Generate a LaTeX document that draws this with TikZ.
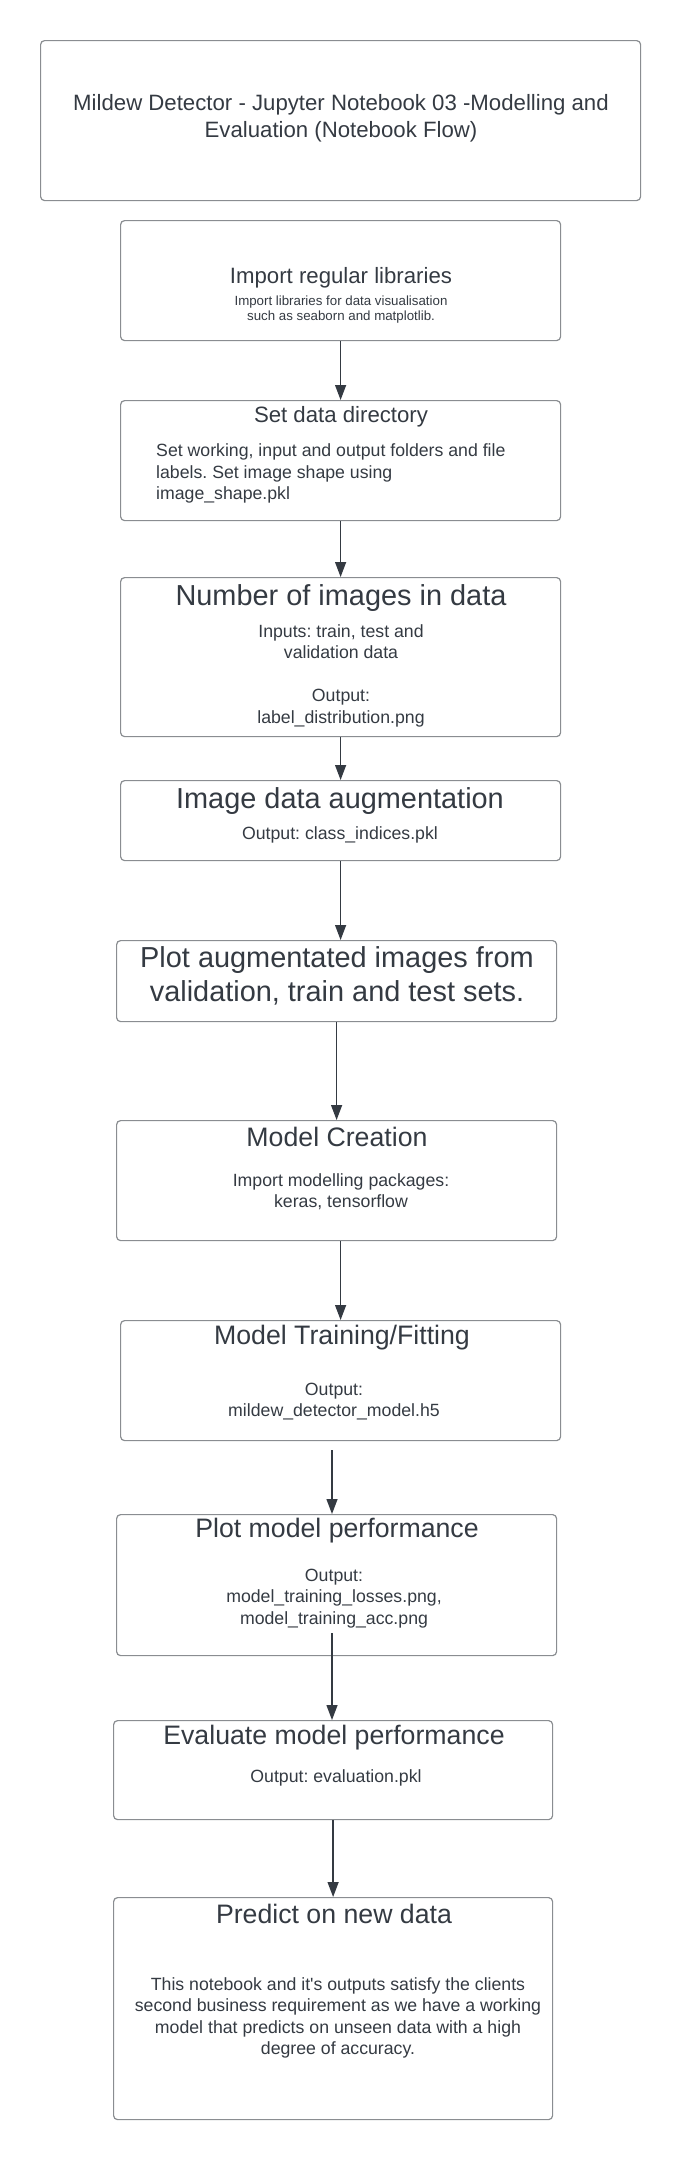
\documentclass[tikz,border=0pt]{standalone}
\usepackage{fontspec}
\setmainfont{Liberation Sans}
\usetikzlibrary{arrows.meta}
\definecolor{ink}{HTML}{343A42}
\definecolor{frame}{HTML}{8A8D91}
\frenchspacing

\begin{document}
\begin{tikzpicture}[x=1pt, y=-1pt, >={Triangle[width=11pt,length=15pt]},
    box/.style={draw=frame, line width=1.2pt, rounded corners=4pt, inner sep=0pt, anchor=north west},
    txt/.style={text=ink, inner sep=0pt, align=center},
    head/.style={txt, font=\fontsize{26.7}{32}\selectfont},
    bighead/.style={txt, font=\fontsize{28.9}{34}\selectfont},
    smallhead/.style={txt, font=\fontsize{22.2}{27}\selectfont},
    body/.style={txt, font=\fontsize{17.7}{21.5}\selectfont},
    flow/.style={->, draw=ink, line width=1.3pt}]
    \useasboundingbox (0,0) rectangle (680,2160);

    % boxes
    \node[box, minimum width=600pt, minimum height=160pt] (title) at (40,40) {};
    \node[box, minimum width=440pt, minimum height=120pt] (libs) at (120,220) {};
    \node[box, minimum width=440pt, minimum height=120pt] (datadir) at (120,400) {};
    \node[box, minimum width=440pt, minimum height=159pt] (count) at (120,577) {};
    \node[box, minimum width=440pt, minimum height=80pt] (augment) at (120,780) {};
    \node[box, minimum width=440pt, minimum height=81pt] (plotaug) at (116,940) {};
    \node[box, minimum width=440pt, minimum height=120pt] (create) at (116,1120) {};
    \node[box, minimum width=440pt, minimum height=120pt] (train) at (120,1320) {};
    \node[box, minimum width=440pt, minimum height=141pt] (perf) at (116,1514) {};
    \node[box, minimum width=439pt, minimum height=99pt] (eval) at (113,1720) {};
    \node[box, minimum width=439pt, minimum height=222pt] (predict) at (113,1897) {};

    % texts
    \node[smallhead] (titletext) at (341,118.5) {Mildew Detector - Jupyter Notebook 03 -Modelling and\\Evaluation (Notebook Flow)};

    \node[smallhead] (libshead) at (341,278) {Import regular libraries};
    \node[txt, font=\fontsize{13.3}{15}\selectfont] (libsbody) at (341,309.5) {Import libraries for data visualisation\\such as seaborn and matplotlib.};

    \node[smallhead] (datadirhead) at (341,417) {Set data directory};
    \node[body, align=left, anchor=west] (datadirbody) at (156,473.5) {Set working, input and output folders and file\\labels. Set image shape using\\image\_shape.pkl};

    \node[bighead] (counthead) at (341,598) {Number of images in data};
    \node[body] (countbody) at (341,675.5) {Inputs: train, test and\\validation data\\[21.5pt]Output:\\label\_distribution.png};

    \node[bighead] (augmenthead) at (340,801) {Image data augmentation};
    \node[body] (augmentbody) at (340,835) {Output: class\_indices.pkl};

    \node[bighead] (plotaughead) at (337,976) {Plot augmentated images from\\validation, train and test sets.};

    \node[head] (createhead) at (337,1137) {Model Creation};
    \node[body] (createbody) at (341,1191.5) {Import modelling packages:\\keras, tensorflow};

    \node[head] (trainhead) at (342,1338) {Model Training/Fitting};
    \node[body] (trainbody) at (334,1401.5) {Output:\\mildew\_detector\_model.h5};

    \node[head] (perfhead) at (337,1531) {Plot model performance};
    \node[body] (perfbody) at (334,1598.5) {Output:\\model\_training\_losses.png,\\model\_training\_acc.png};

    \node[head] (evalhead) at (334,1738) {Evaluate model performance};
    \node[body] (evalbody) at (336,1778) {Output: evaluation.pkl};

    \node[head] (predicthead) at (334,1914) {Predict on new data};
    \node[body] (predictbody) at (338,2018) {This notebook and it\textquotesingle s outputs satisfy the clients\\second business requirement as we have a working\\model that predicts on unseen data with a high\\degree of accuracy.};

    % arrows
    \coordinate (trainout) at (332,1450);
    \coordinate (perfout) at (332,1633);
    \draw[flow] (libs.south) -- (datadir.north);
    \draw[flow] (datadir.south) -- (count.north);
    \draw[flow] (count.south) -- (augment.north);
    \draw[flow] (augment.south) -- (augment.south |- plotaug.north);
    \draw[flow] (plotaug.south) -- (create.north);
    \draw[flow] (train.north |- create.south) -- (train.north);
    \draw[flow] (trainout) -- (trainout |- perf.north);
    \draw[flow] (perfout) -- (perfout |- eval.north);
    \draw[flow] (eval.south) -- (predict.north);
\end{tikzpicture}
\end{document}
